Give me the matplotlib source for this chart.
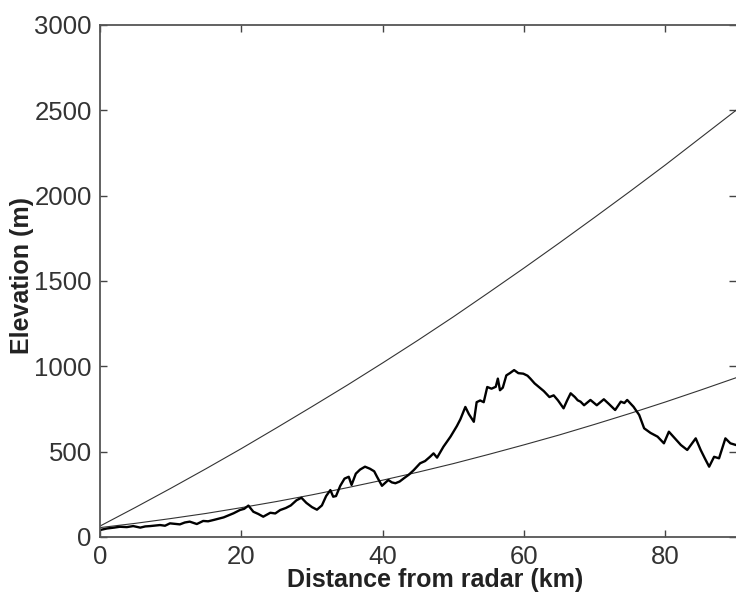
import matplotlib
matplotlib.use("Agg")
import matplotlib.pyplot as plt

# beam height curves (km, m)
beam_km = [0, 5, 10, 15, 20, 25, 30, 35, 40, 45, 50, 55, 60, 65, 70, 75, 80, 85, 90]
upper_m = [64, 173, 285, 400, 518, 640, 764, 890, 1020, 1153, 1290, 1432, 1576,
           1723, 1873, 2025, 2180, 2340, 2500]
lower_m = [55, 80, 108, 138, 172, 208, 247, 289, 333, 380, 430, 484, 540,
           598, 660, 724, 791, 861, 933]

# terrain profile along the radial
terrain_km = [0, 1.0, 2.0, 2.8, 3.8, 4.7, 5.7, 6.4, 7.1, 8.5, 9.2, 9.9, 11.3, 12.0,
              12.7, 13.7, 14.6, 15.3, 16.1, 17.5, 18.9, 19.8, 20.4, 21.0, 21.7,
              22.4, 23.1, 24.1, 24.8, 25.5, 26.3, 27.0, 27.8, 28.5, 29.2, 30.0,
              30.7, 31.4, 32.0, 32.6, 33.0, 33.4, 34.0, 34.6, 35.2, 35.6, 36.2,
              36.8, 37.5, 38.2, 38.8, 39.2, 39.9, 40.8, 41.3, 41.8, 42.4, 43.0,
              43.7, 44.4, 45.3, 46.0, 46.7, 47.2, 47.7, 48.6, 49.6, 50.5, 51.0,
              51.7, 52.2, 52.9, 53.3, 53.8, 54.3, 54.8, 55.4, 56.0, 56.3, 56.6,
              57.0, 57.5, 58.0, 58.6, 59.2, 59.9, 60.5, 60.9, 61.5, 62.1, 62.8,
              63.6, 64.2, 64.8, 65.6, 66.1, 66.6, 67.2, 67.6, 68.0, 68.5, 69.4,
              70.3, 71.3, 72.0, 72.9, 73.7, 74.2, 74.6, 75.5, 76.3, 77.0, 77.9,
              78.9, 79.8, 80.5, 81.3, 82.2, 83.1, 84.3, 85.0, 85.6, 86.2, 86.9,
              87.6, 88.5, 89.2, 90.0]
terrain_m = [41, 50, 55, 60, 58, 64, 55, 62, 64, 70, 66, 80, 74, 85,
             90, 76, 94, 92, 100, 115, 139, 158, 165, 184, 148,
             135, 119, 142, 138, 158, 170, 185, 215, 230, 200, 175,
             160, 185, 240, 275, 236, 240, 300, 342, 353, 305, 371,
             395, 412, 400, 385, 353, 300, 334, 320, 315, 325, 344,
             365, 392, 432, 445, 470, 490, 465, 529, 588, 650, 690,
             762, 720, 675, 790, 800, 790, 879, 869, 880, 928, 860,
             875, 947, 960, 978, 960, 957, 945, 928, 900, 879, 855,
             820, 830, 801, 754, 800, 842, 820, 801, 793, 772, 803,
             772, 807, 780, 744, 793, 785, 803, 763, 715, 637, 610,
             588, 549, 617, 580, 539, 510, 578, 510, 460, 412, 470,
             461, 578, 549, 539]

plt.rcParams['font.family'] = ['Liberation Sans', 'DejaVu Sans']

fig = plt.figure(figsize=(7.36, 5.94), dpi=100)
ax = fig.add_axes([100 / 736, 57 / 594, 636 / 736, 512 / 594])

ax.plot(beam_km, upper_m, color='#333333', lw=0.8)
ax.plot(beam_km, lower_m, color='#333333', lw=0.8)
ax.plot(terrain_km, terrain_m, color='black', lw=1.7)

ax.set_xlim(0, 90)
ax.set_ylim(0, 3000)
ax.set_xticks([0, 20, 40, 60, 80])
ax.set_yticks([0, 500, 1000, 1500, 2000, 2500, 3000])

ax.tick_params(direction='in', length=5, width=1, colors='#444444',
               labelcolor='#333333', labelsize=18.5, top=True, right=True, pad=6)
for side in ['left', 'bottom', 'top']:
    ax.spines[side].set_color('#555555')
    ax.spines[side].set_linewidth(1.3)
ax.spines['right'].set_visible(False)

ax.set_xlabel('Distance from radar (km)', fontsize=18, fontweight='bold',
              color='#222222')
ax.set_ylabel('Elevation (m)', fontsize=18, fontweight='bold',
              color='#222222')
# the original frame runs past the right edge, so the x label sits right of centre
ax.xaxis.set_label_coords((435 - 100) / 636, -0.06)
ax.yaxis.set_label_coords(-0.103, 0.51)

fig.savefig('out.png', dpi=100)
